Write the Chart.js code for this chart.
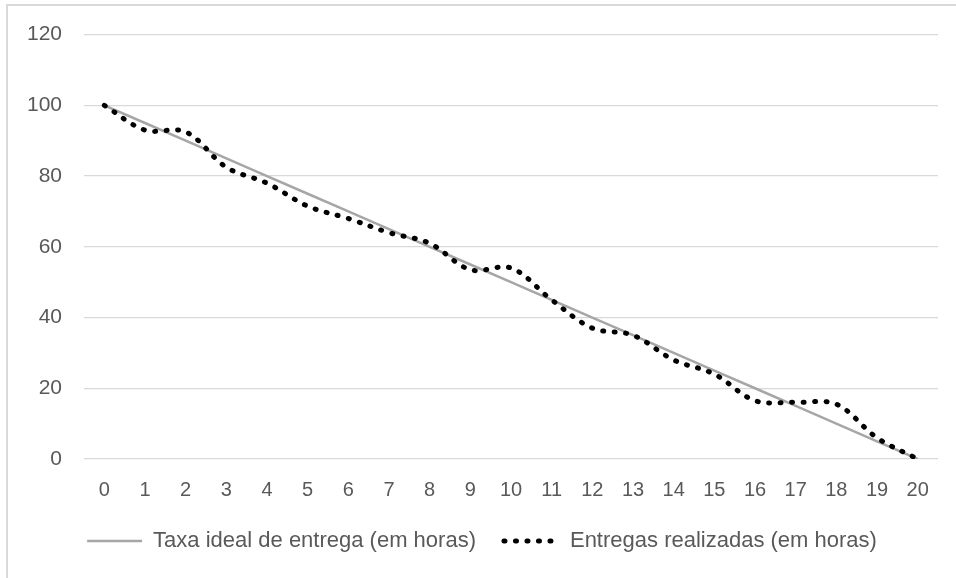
<!DOCTYPE html>
<html>
<head>
<meta charset="utf-8">
<script src="https://cdn.jsdelivr.net/npm/chart.js@4.4.1/dist/chart.umd.min.js"></script>
<style>
  html, body { margin: 0; padding: 0; background: #fff; overflow: hidden; }
  #frame { position: absolute; left: 6px; top: 4px; width: 1000px; height: 700px; border: 2px solid #d9d9d9; }
  #wrap { position: absolute; left: 0; top: 0; width: 956px; height: 578px; }
</style>
</head>
<body>
<div id="frame"></div>
<div id="wrap"><canvas id="chart" width="956" height="578"></canvas></div>
<script>
// hours on the x axis
const hours = ['0','1','2','3','4','5','6','7','8','9','10','11','12','13','14','15','16','17','18','19','20'];

// ideal delivery rate (straight line)
const idealRate = [100, 95, 90, 85, 80, 75, 70, 65, 60, 55, 50, 45, 40, 35, 30, 25, 20, 15, 10, 5, 0];

// deliveries actually done
const doneDeliveries = [100, 93, 92.5, 82.5, 78, 71.5, 68, 64, 61, 53.5, 54, 45, 37, 35, 28, 24, 16.5, 16, 15.5, 6, 0];

const seriesNames = ['Taxa ideal de entrega (em horas)', 'Entregas realizadas (em horas)'];
const yTicks = [0, 20, 40, 60, 80, 100, 120];

const textColor = '#595959';
const fontFamily = '"Liberation Sans", Arial, sans-serif';

const ctx = document.getElementById('chart').getContext('2d');

new Chart(ctx, {
  type: 'line',
  data: {
    labels: hours,
    datasets: [
      {
        label: seriesNames[0],
        data: idealRate,
        borderColor: '#a6a6a6',
        backgroundColor: 'transparent',
        borderWidth: 2.5,
        pointRadius: 0,
        tension: 0,
        order: 1
      },
      {
        label: seriesNames[1],
        data: doneDeliveries,
        borderColor: '#000000',
        backgroundColor: 'transparent',
        borderWidth: 5,
        borderDash: [1, 10.5],
        borderCapStyle: 'round',
        pointRadius: 0,
        tension: 0.35,
        order: 0
      }
    ]
  },
  options: {
    responsive: false,
    animation: false,
    layout: { padding: { left: 26, right: 18, top: 34, bottom: 16 } },
    scales: {
      x: {
        offset: true,
        grid: { display: false, drawTicks: false },
        border: { display: false },
        ticks: {
          color: textColor,
          font: { family: fontFamily, size: 20 },
          padding: 19,
          maxRotation: 0,
          autoSkip: false
        },
        afterFit: (scale) => { scale.height = 43; }
      },
      y: {
        min: 0,
        max: 120,
        afterBuildTicks: (scale) => { scale.ticks = yTicks.map(v => ({ value: v })); },
        grid: { color: '#d9d9d9', lineWidth: 1.2, drawTicks: false },
        border: { display: false },
        ticks: {
          color: textColor,
          font: { family: fontFamily, size: 21 },
          padding: 22
        },
        afterFit: (scale) => { scale.width = 58; }
      }
    },
    plugins: {
      tooltip: { enabled: false },
      legend: {
        position: 'bottom',
        labels: {
          color: textColor,
          font: { family: fontFamily, size: 22 },
          usePointStyle: true,
          pointStyle: 'line',
          pointStyleWidth: 55,
          padding: 28,
          sort: (a, b) => a.datasetIndex - b.datasetIndex,
          generateLabels: (chart) => {
            const items = Chart.defaults.plugins.legend.labels.generateLabels(chart);
            items.forEach(item => {
              const ds = chart.data.datasets[item.datasetIndex];
              item.lineWidth = ds.borderWidth;
              item.lineDash = ds.borderDash || [];
              item.lineCap = ds.borderCapStyle || 'butt';
              item.strokeStyle = ds.borderColor;
            });
            return items;
          }
        }
      }
    }
  }
});
</script>
</body>
</html>
